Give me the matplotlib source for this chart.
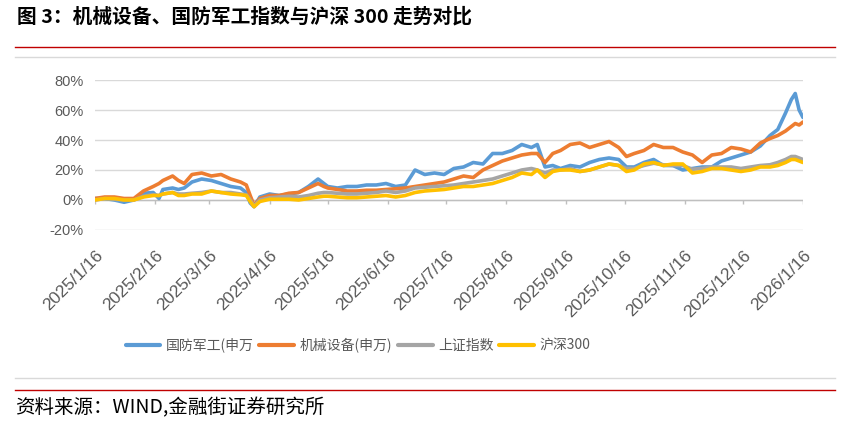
import numpy as np
import pandas as pd
import matplotlib
matplotlib.use("Agg")
import matplotlib.pyplot as plt
from matplotlib.lines import Line2D

plt.rcParams['font.family'] = ['Noto Sans CJK SC', 'DejaVu Sans']

# 数据（读图估计，单位 %）
datas = ['2025-01-16', '2025-01-21', '2025-01-26', '2025-01-31', '2025-02-05', '2025-02-10',
         '2025-02-15', '2025-02-18', '2025-02-20', '2025-02-25', '2025-02-28', '2025-03-03',
         '2025-03-07', '2025-03-12', '2025-03-17', '2025-03-22', '2025-03-27', '2025-04-01',
         '2025-04-04', '2025-04-06', '2025-04-08', '2025-04-11', '2025-04-16', '2025-04-21',
         '2025-04-26', '2025-05-01', '2025-05-06', '2025-05-11', '2025-05-14', '2025-05-16',
         '2025-05-21', '2025-05-26', '2025-05-31', '2025-06-05', '2025-06-10', '2025-06-15',
         '2025-06-20', '2025-06-25', '2025-06-30', '2025-07-05', '2025-07-10', '2025-07-15',
         '2025-07-20', '2025-07-25', '2025-07-30', '2025-08-04', '2025-08-09', '2025-08-14',
         '2025-08-19', '2025-08-24', '2025-08-29', '2025-09-01', '2025-09-05', '2025-09-09',
         '2025-09-13', '2025-09-18', '2025-09-23', '2025-09-28', '2025-10-03', '2025-10-08',
         '2025-10-13', '2025-10-17', '2025-10-21', '2025-10-26', '2025-10-31', '2025-11-05',
         '2025-11-10', '2025-11-15', '2025-11-20', '2025-11-25', '2025-11-30', '2025-12-05',
         '2025-12-10', '2025-12-15', '2025-12-20', '2025-12-25', '2025-12-30', '2026-01-03',
         '2026-01-07', '2026-01-10', '2026-01-12', '2026-01-14', '2026-01-16']

guofang = [1, 1, 0, -1.5, 0, 4.5, 5, 1, 7, 8, 7, 8,
           12, 14, 13, 11, 9, 8, 5, -2, -4.5, 2, 4, 3,
           4, 5, 9, 14, 11, 9, 8, 9, 9, 10, 10, 11,
           9, 10, 20, 17, 18, 17, 21, 22, 25, 24, 31, 31,
           33, 37, 35, 37, 22, 23, 21, 23, 22, 25, 27, 28,
           27, 22, 22, 25, 27, 23, 23, 20, 21, 22, 22, 26,
           28, 30, 32, 36, 43, 47, 58, 67, 71, 60, 55]

jixie = [1, 2, 2, 1, 1, 6, 9, 11, 13, 16, 13, 11,
         17, 18, 16, 17, 14, 12, 10, 3, -3.5, 1, 3, 3,
         4.5, 5, 8, 11, 9, 8, 7, 6, 6, 6.5, 6.5, 7,
         7.5, 8, 9, 10, 11, 12, 14, 16, 15, 20, 23, 26,
         28, 30, 31, 31, 25, 31, 33, 37, 38, 35, 37, 39,
         35, 29, 31, 33, 37, 35, 35, 32, 30, 25, 30, 31,
         35, 34, 32, 38, 41, 43, 46, 49, 51, 50, 52]

shangzheng = [0, 1, 0.5, 0, 0, 2.5, 3.5, 3, 4, 5, 4, 4,
              4.5, 5, 6, 5, 5, 4, 3.5, 0, -4, 0, 1.5, 2,
              2.5, 2, 3, 4.5, 5, 5, 4.5, 4, 4, 4.5, 5, 6,
              5, 6, 8, 8.5, 9, 9.5, 10, 11, 12, 13, 14, 16,
              18, 20, 21, 20, 18, 20, 20, 21, 19, 20, 22, 24,
              23, 21, 21, 23, 24.5, 23.5, 23, 23, 20.5, 21, 22, 22,
              22, 21, 22, 23, 23.5, 25, 27, 29, 29, 28, 27]

hs300 = [0, 1, 1, 0, 0, 2, 3, 3, 4, 5, 3, 3,
         4, 4, 6, 5, 4, 3.5, 3, -1, -4.5, -1, 0.5, 0.5,
         0.5, 0, 1, 2, 2.5, 2.5, 2, 1.5, 1.5, 2, 2.5, 3,
         2, 3, 5, 6, 6.5, 7, 8, 9, 9, 10, 11, 13,
         15, 18, 17, 20, 15, 19, 20, 20, 19, 20, 22, 24,
         23, 19, 20, 24, 25, 23, 24, 24, 18, 19, 21, 21,
         20, 19, 20, 22, 22, 23, 25, 27, 27, 26, 25]

nomes = ['国防军工(申万', '机械设备(申万)', '上证指数', '沪深300']
cores = ['#5B9BD5', '#ED7D31', '#A5A5A5', '#FFC000']
ticks_datas = pd.date_range('2025-01-01', '2026-01-01', freq='MS') + pd.Timedelta(days=15)

def main():
    xs = pd.to_datetime(datas)
    series = [guofang, jixie, shangzheng, hs300]

    fig = plt.figure(figsize=(8.41, 4.22), dpi=100)

    # titulo e linhas vermelhas
    fig.text(17 / 841, 1 - 17 / 422, '图 3：机械设备、国防军工指数与沪深 300 走势对比',
             fontsize=14.2, fontweight='bold', va='center', ha='left')
    fig.add_artist(Line2D([15 / 841, 835 / 841], [1 - 47 / 422] * 2, color='#C00000', lw=1))
    fig.add_artist(Line2D([15 / 841, 835 / 841], [1 - 390 / 422] * 2, color='#C00000', lw=1))
    # moldura cinza do grafico
    fig.add_artist(Line2D([15 / 841, 835 / 841], [1 - 57 / 422] * 2, color='#D9D9D9', lw=1))
    fig.add_artist(Line2D([15 / 841, 835 / 841], [1 - 378 / 422] * 2, color='#D9D9D9', lw=1))
    fig.text(15 / 841, 1 - 408 / 422, '资料来源：WIND,金融街证券研究所',
             fontsize=14, style='italic', va='center', ha='left')

    ax = fig.add_axes([95 / 841, 1 - 230 / 422, 708 / 841, 150 / 422])
    for nome, cor, ys in zip(nomes, cores, series):
        ax.plot(xs, np.array(ys) / 100, color=cor, lw=2.6, label=nome,
                solid_joinstyle='round', solid_capstyle='round')

    ax.set_ylim(-0.2, 0.8)
    ax.set_xlim(ticks_datas[0], ticks_datas[-1])
    ax.set_yticks([-0.2, 0, 0.2, 0.4, 0.6, 0.8])
    ax.set_yticklabels(['-20%', '0%', '20%', '40%', '60%', '80%'],
                       fontfamily='Liberation Sans', fontsize=10.5, color='#595959')
    ax.grid(axis='y', color='#D9D9D9', lw=1)
    ax.set_axisbelow(True)
    for s in ax.spines.values():
        s.set_visible(False)
    ax.tick_params(axis='y', length=0, pad=8)

    ax.set_xticks(ticks_datas)
    ax.set_xticklabels(['{}/{}/{}'.format(d.year, d.month, d.day) for d in ticks_datas],
                       rotation=45, ha='right', va='top', rotation_mode='anchor',
                       fontfamily='Liberation Sans', fontsize=12.5, color='#595959')
    ax.tick_params(axis='x', length=0, pad=13)

    # eixo x no 0% com marcas
    ax.axhline(0, color='#BFBFBF', lw=1, zorder=1)
    ax.vlines(ticks_datas, -0.03, 0, color='#BFBFBF', lw=1, zorder=1)

    handles, labels = ax.get_legend_handles_labels()
    leg = fig.legend(handles, labels, ncol=4, loc='center', bbox_to_anchor=(358 / 841, 1 - 345 / 422),
                     frameon=False, fontsize=10, handlelength=2.5, handletextpad=0.4,
                     columnspacing=0.4, borderaxespad=0)
    for t in leg.get_texts():
        t.set_color('#595959')
    for l in leg.get_lines():
        l.set_linewidth(3)

    fig.savefig('out.png', dpi=100)
    return 0

if __name__ == '__main__':
    main()
